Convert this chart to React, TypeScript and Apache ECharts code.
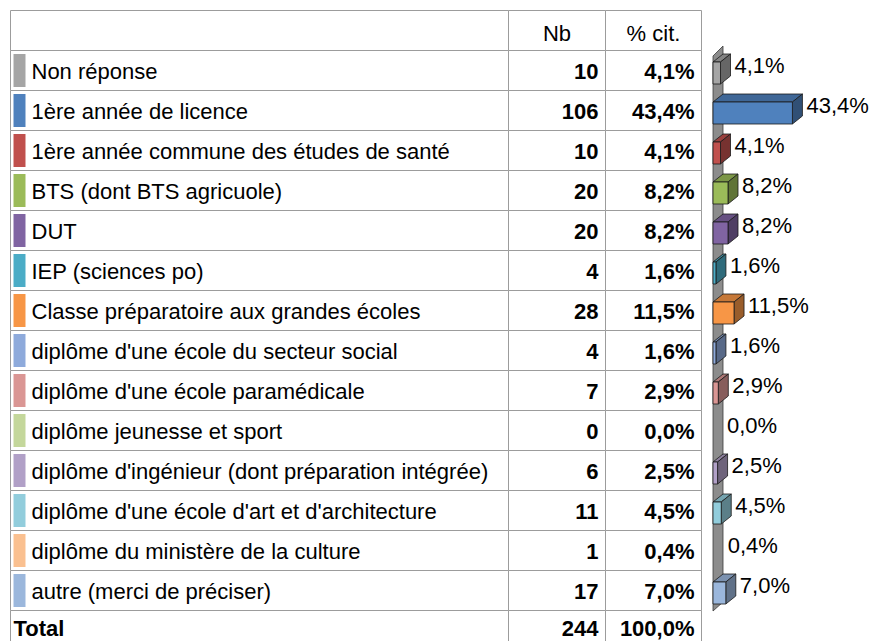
import React, { useEffect, useRef } from "react";
import * as echarts from "echarts";

const categories = [
  "Non réponse",
  "1ère année de licence",
  "1ère année commune des études de santé",
  "BTS (dont BTS agricuole)",
  "DUT",
  "IEP (sciences po)",
  "Classe préparatoire aux grandes écoles",
  "diplôme d'une école du secteur social",
  "diplôme d'une école paramédicale",
  "diplôme jeunesse et sport",
  "diplôme d'ingénieur (dont préparation intégrée)",
  "diplôme d'une école d'art et d'architecture",
  "diplôme du ministère de la culture",
  "autre (merci de préciser)",
];
const counts = [10, 106, 10, 20, 20, 4, 28, 4, 7, 0, 6, 11, 1, 17];
const percents = [4.1, 43.4, 4.1, 8.2, 8.2, 1.6, 11.5, 1.6, 2.9, 0.0, 2.5, 4.5, 0.4, 7.0];
const headers = ["Nb", "% cit."];
const totalLabel = "Total";
const totalCount = 244;
const totalPercent = 100.0;

const colors = [
  "#a5a5a5", "#4f81bd", "#c0504d", "#9bbb59", "#8064a2", "#4bacc6", "#f79646",
  "#8eaadb", "#da9694", "#c4d79b", "#b1a0c7", "#92cddc", "#fac090", "#9bb7dc",
];

const FONT = '"Liberation Sans", Arial, sans-serif';
const COL_X = [0, 498, 595, 691];
const LINE = "#9c9c9c";
const DX = 10;
const DY = -8;
const ROW_H = 40;
const TABLE_TOP = 10;
const TABLE_H = 641 - TABLE_TOP;

const fmtPct = (v: number) => v.toFixed(1).replace(".", ",") + "%";

function shade(hex: string, f: number) {
  const n = parseInt(hex.slice(1), 16);
  const r = Math.round(((n >> 16) & 255) * f);
  const g = Math.round(((n >> 8) & 255) * f);
  const b = Math.round((n & 255) * f);
  return `rgb(${r},${g},${b})`;
}

export default function App() {
  const ref = useRef<HTMLDivElement>(null);
  useEffect(() => {
    if (!ref.current) return;
    const chart = echarts.init(ref.current, null, { renderer: "svg" });
    const nRows = categories.length + 2;

    const tableRender = (params: any, api: any) => {
      const i = params.dataIndex;
      const pos = api.value(1);
      const [, cy] = api.coord([0, pos]);
      const h = Math.abs(api.size([0, 1])[1]);
      const top = Math.round(cy - h / 2) + 0.5;
      const xs = COL_X.map((c) => Math.round(api.coord([c, pos])[0]) + 0.5);
      const children: any[] = [];
      for (let c = 0; c < 3; c++) {
        children.push({
          type: "rect",
          shape: { x: xs[c], y: top, width: xs[c + 1] - xs[c], height: h },
          style: { fill: "#fff", stroke: LINE, lineWidth: 1 },
        });
      }
      const txt = (text: string, x: number, y: number, align: string, bold: boolean) => ({
        type: "text",
        style: {
          text,
          x,
          y,
          textAlign: align,
          textVerticalAlign: "middle",
          font: `${bold ? "bold " : ""}22px ${FONT}`,
          fill: "#000",
        },
      });
      if (i === 0) {
        children.push(txt(headers[0], (xs[1] + xs[2]) / 2, cy + 3, "center", false));
        children.push(txt(headers[1], (xs[2] + xs[3]) / 2, cy + 3, "center", false));
      } else if (i === nRows - 1) {
        children.push(txt(totalLabel, xs[0] + 3, cy - 1.5, "left", true));
        children.push(txt(String(totalCount), xs[2] - 7, cy - 1.5, "right", true));
        children.push(txt(fmtPct(totalPercent), xs[3] - 7, cy - 1.5, "right", true));
      } else {
        const k = i - 1;
        children.push({
          type: "rect",
          shape: { x: xs[0] + 3, y: top + 3.5, width: 12, height: 33 },
          style: { fill: colors[k] },
        });
        children.push(txt(categories[k], xs[0] + 21, cy + 1, "left", false));
        children.push(txt(String(counts[k]), xs[2] - 7, cy + 1, "right", true));
        children.push(txt(fmtPct(percents[k]), xs[3] - 7, cy + 1, "right", true));
      }
      return { type: "group", children };
    };

    const barRender = (params: any, api: any) => {
      const k = params.dataIndex;
      const v = api.value(0);
      const idx = api.value(1);
      const [x1, cy] = api.coord([v, idx]);
      const [x0] = api.coord([0, idx]);
      const y0 = cy - 8;
      const y1 = cy + 14;
      const col = colors[k];
      const children: any[] = [];
      const stroke = "#1a1a1a";
      if (x1 - x0 >= 2) {
        children.push({
          type: "polygon",
          shape: { points: [[x0, y0], [x0 + DX, y0 + DY], [x1 + DX, y0 + DY], [x1, y0]] },
          style: { fill: shade(col, 0.8), stroke, lineWidth: 0.8 },
        });
        children.push({
          type: "polygon",
          shape: { points: [[x1, y0], [x1 + DX, y0 + DY], [x1 + DX, y1 + DY], [x1, y1]] },
          style: { fill: shade(col, 0.62), stroke, lineWidth: 0.8 },
        });
        children.push({
          type: "rect",
          shape: { x: x0, y: y0, width: x1 - x0, height: y1 - y0 },
          style: { fill: col, stroke, lineWidth: 0.8 },
        });
      }
      children.push({
        type: "text",
        style: {
          text: fmtPct(v),
          x: Math.max(x1, x0) + DX + 4,
          y: cy - 5,
          textAlign: "left",
          textVerticalAlign: "middle",
          font: `22px ${FONT}`,
          fill: "#000",
        },
      });
      return { type: "group", children };
    };

    const wallRender = (params: any) => {
      const cs = params.coordSys;
      const x0 = cs.x;
      const t = cs.y + 6;
      const b = cs.y + cs.height + 1;
      return {
        type: "polygon",
        shape: { points: [[x0, t], [x0 + DX, t - 10], [x0 + DX, b - 9], [x0, b]] },
        style: { fill: "#8c8c8c", stroke: "#3a3a3a", lineWidth: 0.8 },
      };
    };

    chart.setOption({
      animation: false,
      backgroundColor: "#fff",
      grid: [
        { left: 713, top: 50, width: 91.5, height: 560 },
        { left: 10, top: TABLE_TOP, width: 691, height: TABLE_H },
      ],
      xAxis: [
        { type: "value", min: 0, max: 50, show: false, gridIndex: 0 },
        { type: "value", min: 0, max: 691, show: false, gridIndex: 1 },
      ],
      yAxis: [
        { type: "category", data: categories, inverse: true, show: false, gridIndex: 0 },
        { type: "value", min: 0, max: TABLE_H / ROW_H, inverse: true, show: false, gridIndex: 1 },
      ],
      series: [
        {
          type: "custom",
          xAxisIndex: 1,
          yAxisIndex: 1,
          renderItem: tableRender,
          data: Array.from({ length: nRows }, (_, i) => [0, i + 0.5]),
          z: 1,
          silent: true,
          clip: false,
        },
        {
          type: "custom",
          xAxisIndex: 0,
          yAxisIndex: 0,
          renderItem: wallRender,
          data: [[0, 0]],
          z: 2,
          silent: true,
        },
        {
          type: "custom",
          xAxisIndex: 0,
          yAxisIndex: 0,
          renderItem: barRender,
          data: percents.map((v, i) => [v, i]),
          z: 3,
          silent: true,
        },
      ],
    });
    return () => chart.dispose();
  }, []);
  return (
    <div
      ref={ref}
      style={{ position: "fixed", left: 0, top: 0, width: 873, height: 641, background: "#fff" }}
    />
  );
}
